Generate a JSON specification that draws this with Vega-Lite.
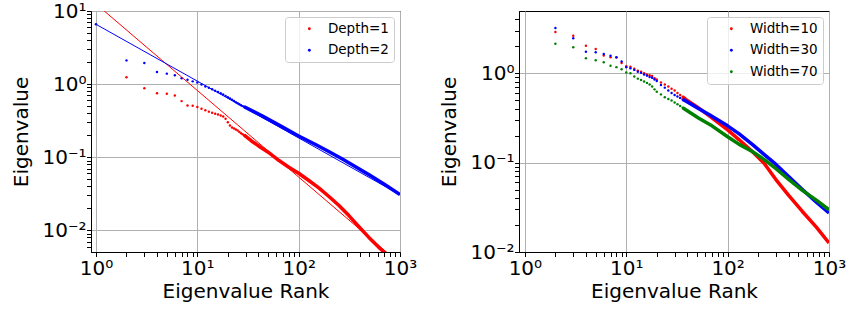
{
  "$schema": "https://vega.github.io/schema/vega-lite/v6.json",
  "padding": {"left": 11, "top": 0, "right": 0, "bottom": 0},
  "spacing": 119,
  "bounds": "flush",
  "resolve": {"scale": {"color": "independent", "stroke": "independent"}},
  "datasets": {
    "leftPoints": [
      {"series": "Depth=1", "rank": 2, "eig": 1.24}, {"series": "Depth=1", "rank": 3, "eig": 0.88}, {"series": "Depth=1", "rank": 4, "eig": 0.75}, {"series": "Depth=1", "rank": 5, "eig": 0.74}, {"series": "Depth=1", "rank": 6, "eig": 0.70}, {"series": "Depth=1", "rank": 7, "eig": 0.585}, {"series": "Depth=1", "rank": 8, "eig": 0.51}, {"series": "Depth=1", "rank": 9, "eig": 0.505}, {"series": "Depth=1", "rank": 10, "eig": 0.485}, {"series": "Depth=1", "rank": 11, "eig": 0.46}, {"series": "Depth=1", "rank": 12, "eig": 0.44}, {"series": "Depth=1", "rank": 13, "eig": 0.42}, {"series": "Depth=1", "rank": 14, "eig": 0.405}, {"series": "Depth=1", "rank": 15, "eig": 0.393}, {"series": "Depth=1", "rank": 16, "eig": 0.385}, {"series": "Depth=1", "rank": 17, "eig": 0.372}, {"series": "Depth=1", "rank": 18, "eig": 0.36}, {"series": "Depth=1", "rank": 19, "eig": 0.335}, {"series": "Depth=1", "rank": 20, "eig": 0.30}, {"series": "Depth=1", "rank": 21, "eig": 0.272}, {"series": "Depth=1", "rank": 22, "eig": 0.255}, {"series": "Depth=1", "rank": 23, "eig": 0.247}, {"series": "Depth=1", "rank": 24, "eig": 0.24}, {"series": "Depth=1", "rank": 25, "eig": 0.232}, {"series": "Depth=1", "rank": 26, "eig": 0.222}, {"series": "Depth=1", "rank": 27, "eig": 0.213}, {"series": "Depth=1", "rank": 28, "eig": 0.206}, {"series": "Depth=1", "rank": 29, "eig": 0.2}, {"series": "Depth=1", "rank": 30, "eig": 0.195},
      {"series": "Depth=2", "rank": 1, "eig": 6.6}, {"series": "Depth=2", "rank": 2, "eig": 2.11}, {"series": "Depth=2", "rank": 3, "eig": 1.94}, {"series": "Depth=2", "rank": 4, "eig": 1.46}, {"series": "Depth=2", "rank": 5, "eig": 1.39}, {"series": "Depth=2", "rank": 6, "eig": 1.32}, {"series": "Depth=2", "rank": 7, "eig": 1.2}, {"series": "Depth=2", "rank": 8, "eig": 1.15}, {"series": "Depth=2", "rank": 9, "eig": 1.09}, {"series": "Depth=2", "rank": 10, "eig": 1.05}, {"series": "Depth=2", "rank": 11, "eig": 0.99}, {"series": "Depth=2", "rank": 12, "eig": 0.93}, {"series": "Depth=2", "rank": 13, "eig": 0.89}, {"series": "Depth=2", "rank": 14, "eig": 0.85}, {"series": "Depth=2", "rank": 15, "eig": 0.81}, {"series": "Depth=2", "rank": 16, "eig": 0.78}, {"series": "Depth=2", "rank": 17, "eig": 0.75}, {"series": "Depth=2", "rank": 18, "eig": 0.72}, {"series": "Depth=2", "rank": 19, "eig": 0.69}, {"series": "Depth=2", "rank": 20, "eig": 0.66}, {"series": "Depth=2", "rank": 21, "eig": 0.635}, {"series": "Depth=2", "rank": 22, "eig": 0.61}, {"series": "Depth=2", "rank": 23, "eig": 0.588}, {"series": "Depth=2", "rank": 24, "eig": 0.565}, {"series": "Depth=2", "rank": 25, "eig": 0.547}, {"series": "Depth=2", "rank": 26, "eig": 0.53}, {"series": "Depth=2", "rank": 27, "eig": 0.515}, {"series": "Depth=2", "rank": 28, "eig": 0.5}, {"series": "Depth=2", "rank": 29, "eig": 0.49}, {"series": "Depth=2", "rank": 30, "eig": 0.48}
    ],
    "leftBand": [
      {"series": "Depth=1", "rank": 29, "eig": 0.2}, {"series": "Depth=1", "rank": 34, "eig": 0.168}, {"series": "Depth=1", "rank": 42, "eig": 0.137}, {"series": "Depth=1", "rank": 50, "eig": 0.117}, {"series": "Depth=1", "rank": 55, "eig": 0.106}, {"series": "Depth=1", "rank": 64, "eig": 0.09}, {"series": "Depth=1", "rank": 80, "eig": 0.073}, {"series": "Depth=1", "rank": 100, "eig": 0.0604}, {"series": "Depth=1", "rank": 126, "eig": 0.048}, {"series": "Depth=1", "rank": 158, "eig": 0.0381}, {"series": "Depth=1", "rank": 199, "eig": 0.029}, {"series": "Depth=1", "rank": 250, "eig": 0.0218}, {"series": "Depth=1", "rank": 313, "eig": 0.0159}, {"series": "Depth=1", "rank": 393, "eig": 0.0112}, {"series": "Depth=1", "rank": 493, "eig": 0.008}, {"series": "Depth=1", "rank": 618, "eig": 0.00585}, {"series": "Depth=1", "rank": 719, "eig": 0.00484}, {"series": "Depth=1", "rank": 850, "eig": 0.0038},
      {"series": "Depth=2", "rank": 29, "eig": 0.49}, {"series": "Depth=2", "rank": 36, "eig": 0.42}, {"series": "Depth=2", "rank": 44, "eig": 0.365}, {"series": "Depth=2", "rank": 64, "eig": 0.275}, {"series": "Depth=2", "rank": 100, "eig": 0.195}, {"series": "Depth=2", "rank": 150, "eig": 0.147}, {"series": "Depth=2", "rank": 200, "eig": 0.119}, {"series": "Depth=2", "rank": 270, "eig": 0.0944}, {"series": "Depth=2", "rank": 350, "eig": 0.0766}, {"series": "Depth=2", "rank": 500, "eig": 0.057}, {"series": "Depth=2", "rank": 700, "eig": 0.0426}, {"series": "Depth=2", "rank": 1000, "eig": 0.0308}
    ],
    "leftFit": [
      {"series": "Depth=1", "rank": 1, "eig": 12.5}, {"series": "Depth=1", "rank": 1000, "eig": 0.0035},
      {"series": "Depth=2", "rank": 1, "eig": 6.58}, {"series": "Depth=2", "rank": 1000, "eig": 0.0306}
    ],
    "rightPoints": [
      {"series": "Width=10", "rank": 2, "eig": 2.9}, {"series": "Width=10", "rank": 3, "eig": 2.63}, {"series": "Width=10", "rank": 4, "eig": 2.03}, {"series": "Width=10", "rank": 5, "eig": 1.87}, {"series": "Width=10", "rank": 6, "eig": 1.58}, {"series": "Width=10", "rank": 7, "eig": 1.51}, {"series": "Width=10", "rank": 8, "eig": 1.5}, {"series": "Width=10", "rank": 9, "eig": 1.3}, {"series": "Width=10", "rank": 10, "eig": 1.2}, {"series": "Width=10", "rank": 11, "eig": 1.18}, {"series": "Width=10", "rank": 12, "eig": 1.12}, {"series": "Width=10", "rank": 13, "eig": 1.07}, {"series": "Width=10", "rank": 14, "eig": 1.04}, {"series": "Width=10", "rank": 15, "eig": 1.0}, {"series": "Width=10", "rank": 16, "eig": 0.97}, {"series": "Width=10", "rank": 17, "eig": 0.95}, {"series": "Width=10", "rank": 18, "eig": 0.93}, {"series": "Width=10", "rank": 19, "eig": 0.88}, {"series": "Width=10", "rank": 20, "eig": 0.85}, {"series": "Width=10", "rank": 22, "eig": 0.79}, {"series": "Width=10", "rank": 24, "eig": 0.75}, {"series": "Width=10", "rank": 26, "eig": 0.71}, {"series": "Width=10", "rank": 28, "eig": 0.67}, {"series": "Width=10", "rank": 30, "eig": 0.64}, {"series": "Width=10", "rank": 32, "eig": 0.6}, {"series": "Width=10", "rank": 34, "eig": 0.57}, {"series": "Width=10", "rank": 36, "eig": 0.545}, {"series": "Width=10", "rank": 38, "eig": 0.52},
      {"series": "Width=30", "rank": 2, "eig": 3.2}, {"series": "Width=30", "rank": 3, "eig": 2.46}, {"series": "Width=30", "rank": 4, "eig": 1.74}, {"series": "Width=30", "rank": 5, "eig": 1.72}, {"series": "Width=30", "rank": 6, "eig": 1.64}, {"series": "Width=30", "rank": 7, "eig": 1.57}, {"series": "Width=30", "rank": 8, "eig": 1.51}, {"series": "Width=30", "rank": 9, "eig": 1.35}, {"series": "Width=30", "rank": 10, "eig": 1.17}, {"series": "Width=30", "rank": 11, "eig": 1.14}, {"series": "Width=30", "rank": 12, "eig": 1.09}, {"series": "Width=30", "rank": 13, "eig": 1.04}, {"series": "Width=30", "rank": 14, "eig": 1.01}, {"series": "Width=30", "rank": 15, "eig": 0.97}, {"series": "Width=30", "rank": 16, "eig": 0.94}, {"series": "Width=30", "rank": 17, "eig": 0.91}, {"series": "Width=30", "rank": 18, "eig": 0.89}, {"series": "Width=30", "rank": 19, "eig": 0.85}, {"series": "Width=30", "rank": 20, "eig": 0.82}, {"series": "Width=30", "rank": 22, "eig": 0.74}, {"series": "Width=30", "rank": 24, "eig": 0.69}, {"series": "Width=30", "rank": 26, "eig": 0.64}, {"series": "Width=30", "rank": 28, "eig": 0.6}, {"series": "Width=30", "rank": 30, "eig": 0.57}, {"series": "Width=30", "rank": 32, "eig": 0.55}, {"series": "Width=30", "rank": 34, "eig": 0.53}, {"series": "Width=30", "rank": 36, "eig": 0.51}, {"series": "Width=30", "rank": 38, "eig": 0.495},
      {"series": "Width=70", "rank": 2, "eig": 2.14}, {"series": "Width=70", "rank": 3, "eig": 1.95}, {"series": "Width=70", "rank": 4, "eig": 1.47}, {"series": "Width=70", "rank": 5, "eig": 1.4}, {"series": "Width=70", "rank": 6, "eig": 1.33}, {"series": "Width=70", "rank": 7, "eig": 1.21}, {"series": "Width=70", "rank": 8, "eig": 1.17}, {"series": "Width=70", "rank": 9, "eig": 1.11}, {"series": "Width=70", "rank": 10, "eig": 1.02}, {"series": "Width=70", "rank": 11, "eig": 1.0}, {"series": "Width=70", "rank": 12, "eig": 0.92}, {"series": "Width=70", "rank": 13, "eig": 0.87}, {"series": "Width=70", "rank": 14, "eig": 0.84}, {"series": "Width=70", "rank": 15, "eig": 0.81}, {"series": "Width=70", "rank": 16, "eig": 0.78}, {"series": "Width=70", "rank": 17, "eig": 0.75}, {"series": "Width=70", "rank": 18, "eig": 0.71}, {"series": "Width=70", "rank": 19, "eig": 0.66}, {"series": "Width=70", "rank": 20, "eig": 0.62}, {"series": "Width=70", "rank": 22, "eig": 0.58}, {"series": "Width=70", "rank": 24, "eig": 0.54}, {"series": "Width=70", "rank": 26, "eig": 0.515}, {"series": "Width=70", "rank": 28, "eig": 0.495}, {"series": "Width=70", "rank": 30, "eig": 0.47}, {"series": "Width=70", "rank": 32, "eig": 0.45}, {"series": "Width=70", "rank": 34, "eig": 0.43}, {"series": "Width=70", "rank": 36, "eig": 0.41}, {"series": "Width=70", "rank": 38, "eig": 0.395}
    ],
    "rightBand": [
      {"series": "Width=10", "rank": 36, "eig": 0.545}, {"series": "Width=10", "rank": 38.6, "eig": 0.51}, {"series": "Width=10", "rank": 50, "eig": 0.42}, {"series": "Width=10", "rank": 65.5, "eig": 0.335}, {"series": "Width=10", "rank": 100, "eig": 0.232}, {"series": "Width=10", "rank": 130, "eig": 0.18}, {"series": "Width=10", "rank": 175, "eig": 0.133}, {"series": "Width=10", "rank": 230, "eig": 0.098}, {"series": "Width=10", "rank": 298, "eig": 0.065}, {"series": "Width=10", "rank": 400, "eig": 0.043}, {"series": "Width=10", "rank": 546, "eig": 0.0284}, {"series": "Width=10", "rank": 750, "eig": 0.019}, {"series": "Width=10", "rank": 1000, "eig": 0.0126},
      {"series": "Width=30", "rank": 36, "eig": 0.51}, {"series": "Width=30", "rank": 38.6, "eig": 0.49}, {"series": "Width=30", "rank": 50, "eig": 0.41}, {"series": "Width=30", "rank": 65.5, "eig": 0.345}, {"series": "Width=30", "rank": 100, "eig": 0.258}, {"series": "Width=30", "rank": 130, "eig": 0.21}, {"series": "Width=30", "rank": 175, "eig": 0.16}, {"series": "Width=30", "rank": 230, "eig": 0.123}, {"series": "Width=30", "rank": 298, "eig": 0.096}, {"series": "Width=30", "rank": 400, "eig": 0.07}, {"series": "Width=30", "rank": 546, "eig": 0.05}, {"series": "Width=30", "rank": 750, "eig": 0.036}, {"series": "Width=30", "rank": 1000, "eig": 0.0273},
      {"series": "Width=70", "rank": 36, "eig": 0.41}, {"series": "Width=70", "rank": 38.6, "eig": 0.39}, {"series": "Width=70", "rank": 52, "eig": 0.314}, {"series": "Width=70", "rank": 70, "eig": 0.258}, {"series": "Width=70", "rank": 100, "eig": 0.195}, {"series": "Width=70", "rank": 130, "eig": 0.16}, {"series": "Width=70", "rank": 175, "eig": 0.133}, {"series": "Width=70", "rank": 230, "eig": 0.108}, {"series": "Width=70", "rank": 298, "eig": 0.086}, {"series": "Width=70", "rank": 400, "eig": 0.065}, {"series": "Width=70", "rank": 546, "eig": 0.049}, {"series": "Width=70", "rank": 750, "eig": 0.038}, {"series": "Width=70", "rank": 1000, "eig": 0.0297}
    ]
  },
  "hconcat": [
    {
      "width": 309,
      "height": 241,
      "encoding": {
        "x": {"field": "rank", "type": "quantitative", "scale": {"type": "log", "domain": [0.893, 1000], "nice": false},
          "axis": {"title": "Eigenvalue Rank", "titlePadding": 3, "values": [1,2,3,4,5,6,7,8,9,10,20,30,40,50,60,70,80,90,100,200,300,400,500,600,700,800,900,1000],
            "labelExpr": "datum.value==1?'10⁰':datum.value==10?'10¹':datum.value==100?'10²':datum.value==1000?'10³':''",
            "gridOpacity": {"condition": {"test": "abs(log(datum.value)/LN10-round(log(datum.value)/LN10))<0.001", "value": 1}, "value": 0},
            "encode": {"ticks": {"update": {"y2": {"condition": {"test": "abs(log(datum.value)/LN10-round(log(datum.value)/LN10))<0.001", "value": 4.5}, "value": 2.6}}}}}},
        "y": {"field": "eig", "type": "quantitative", "scale": {"type": "log", "domain": [0.00505, 10], "nice": false},
          "axis": {"title": "Eigenvalue", "labelPadding": 0.5, "titlePadding": 10, "values": [0.006,0.007,0.008,0.009,0.01,0.02,0.03,0.04,0.05,0.06,0.07,0.08,0.09,0.1,0.2,0.3,0.4,0.5,0.6,0.7,0.8,0.9,1,2,3,4,5,6,7,8,9,10],
            "labelExpr": "datum.value==10?'10¹':datum.value==1?'10⁰':datum.value==0.1?'10⁻¹':datum.value==0.01?'10⁻²':''",
            "gridOpacity": {"condition": {"test": "abs(log(datum.value)/LN10-round(log(datum.value)/LN10))<0.001", "value": 1}, "value": 0},
            "encode": {"ticks": {"update": {"x2": {"condition": {"test": "abs(log(datum.value)/LN10-round(log(datum.value)/LN10))<0.001", "value": -4.5}, "value": -2.6}}}}}}
      },
      "layer": [
        {"data": {"name": "leftPoints"}, "mark": {"type": "point", "filled": true, "size": 6, "opacity": 1, "strokeWidth": 0, "clip": true},
          "encoding": {"color": {"field": "series", "type": "nominal", "scale": {"domain": ["Depth=1", "Depth=2"], "range": ["#ff0000", "#0000ff"]}, "legend": {"title": null}}}},
        {"data": {"name": "leftBand"}, "mark": {"type": "line", "strokeWidth": 3.5, "strokeJoin": "round", "clip": true},
          "encoding": {"stroke": {"field": "series", "type": "nominal", "scale": {"domain": ["Depth=1", "Depth=2"], "range": ["#ff0000", "#0000ff"]}, "legend": null}}},
        {"data": {"name": "leftFit"}, "mark": {"type": "line", "strokeWidth": 1, "clip": true},
          "encoding": {"stroke": {"field": "series", "type": "nominal", "scale": {"domain": ["Depth=1", "Depth=2"], "range": ["#ff0000", "#0000ff"]}, "legend": null}}}
      ]
    },
    {
      "width": 310,
      "height": 241,
      "encoding": {
        "x": {"field": "rank", "type": "quantitative", "scale": {"type": "log", "domain": [0.875, 1000], "nice": false},
          "axis": {"title": "Eigenvalue Rank", "titlePadding": 3, "values": [1,2,3,4,5,6,7,8,9,10,20,30,40,50,60,70,80,90,100,200,300,400,500,600,700,800,900,1000],
            "labelExpr": "datum.value==1?'10⁰':datum.value==10?'10¹':datum.value==100?'10²':datum.value==1000?'10³':''",
            "gridOpacity": {"condition": {"test": "abs(log(datum.value)/LN10-round(log(datum.value)/LN10))<0.001", "value": 1}, "value": 0},
            "encode": {"ticks": {"update": {"y2": {"condition": {"test": "abs(log(datum.value)/LN10-round(log(datum.value)/LN10))<0.001", "value": 4.5}, "value": 2.6}}}}}},
        "y": {"field": "eig", "type": "quantitative", "scale": {"type": "log", "domain": [0.01, 4.97], "nice": false},
          "axis": {"title": "Eigenvalue", "labelPadding": 0.5, "titlePadding": 10, "values": [0.01,0.02,0.03,0.04,0.05,0.06,0.07,0.08,0.09,0.1,0.2,0.3,0.4,0.5,0.6,0.7,0.8,0.9,1,2,3,4],
            "labelExpr": "datum.value==1?'10⁰':datum.value==0.1?'10⁻¹':datum.value==0.01?'10⁻²':''",
            "gridOpacity": {"condition": {"test": "abs(log(datum.value)/LN10-round(log(datum.value)/LN10))<0.001", "value": 1}, "value": 0},
            "encode": {"ticks": {"update": {"x2": {"condition": {"test": "abs(log(datum.value)/LN10-round(log(datum.value)/LN10))<0.001", "value": -4.5}, "value": -2.6}}}}}}
      },
      "layer": [
        {"data": {"name": "rightPoints"}, "mark": {"type": "point", "filled": true, "size": 6, "opacity": 1, "strokeWidth": 0, "clip": true},
          "encoding": {"color": {"field": "series", "type": "nominal", "scale": {"domain": ["Width=10", "Width=30", "Width=70"], "range": ["#ff0000", "#0000ff", "#008000"]}, "legend": {"title": null}}}},
        {"data": {"name": "rightBand"}, "mark": {"type": "line", "strokeWidth": 3.5, "strokeJoin": "round", "clip": true},
          "encoding": {"stroke": {"field": "series", "type": "nominal", "scale": {"domain": ["Width=10", "Width=30", "Width=70"], "range": ["#ff0000", "#0000ff", "#008000"]}, "legend": null}}}
      ]
    }
  ],
  "config": {
    "font": "DejaVu Sans",
    "view": {"stroke": "black", "strokeWidth": 1},
    "axis": {"domainColor": "black", "domainWidth": 1, "tickColor": "black", "tickWidth": 1, "tickSize": 4.5, "labelColor": "black", "titleColor": "black",
      "labelFont": "DejaVu Sans", "titleFont": "DejaVu Sans", "labelFontSize": 20, "titleFontSize": 20, "titleFontWeight": "normal",
      "gridColor": "#b0b0b0", "gridWidth": 1, "labelPadding": 2, "titlePadding": 6, "labelOverlap": false, "labelFlush": false, "labelBound": false},
    "legend": {"orient": "top-right", "offset": 6, "labelFont": "DejaVu Sans", "labelFontSize": 13.5, "labelColor": "black", "symbolSize": 8, "symbolType": "circle",
      "symbolStrokeWidth": 0, "padding": 5, "rowPadding": 6.5, "cornerRadius": 3, "strokeColor": "#cccccc", "fillColor": "rgba(255,255,255,0.8)", "symbolOffset": 12.6, "labelOffset": 11.8}
  }
}
